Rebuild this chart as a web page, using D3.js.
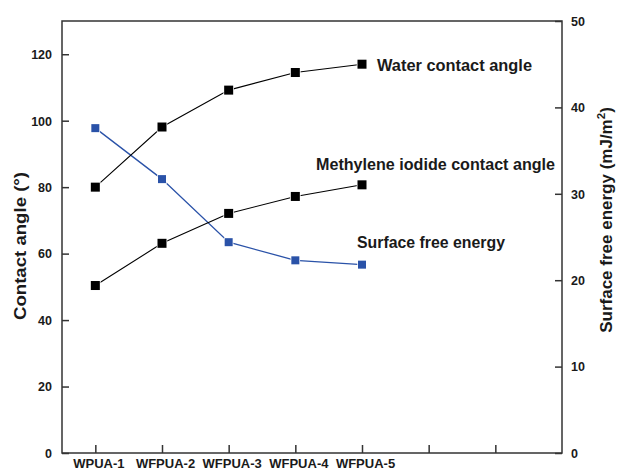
<!DOCTYPE html>
<html>
<head>
<meta charset="utf-8">
<script src="https://cdn.jsdelivr.net/npm/d3@7/dist/d3.min.js"></script>
<style>
  html, body { margin: 0; padding: 0; background: #fff; }
  svg { display: block; }
  text { font-family: "Liberation Sans", Arial, sans-serif; font-weight: bold; fill: #1a1a1a; }
</style>
</head>
<body>
<svg id="chart" width="618" height="470"></svg>
<script>
// Samples (x positions 1..5); two empty slots follow on the axis
const samples = ["WPUA-1", "WFPUA-2", "WFPUA-3", "WFPUA-4", "WFPUA-5"];
const xTicks = [1, 2, 3, 4, 5, 6, 7];

// Contact angles (degrees, left axis)
const waterAngle = [80.0, 98.1, 109.2, 114.5, 117.0];
const methyleneAngle = [50.4, 63.1, 72.1, 77.2, 80.7];

// Surface free energy (mJ/m², right axis)
const surfaceEnergy = [37.6, 31.7, 24.4, 22.3, 21.8];

const leftTicks = [0, 20, 40, 60, 80, 100, 120];
const rightTicks = [0, 10, 20, 30, 40, 50];

const svg = d3.select("#chart");
const plot = { left: 62, right: 562, top: 21, bottom: 453 };

const x = d3.scaleLinear().domain([0.5, 8]).range([plot.left, plot.right]);
const yL = d3.scaleLinear().domain([0, 130]).range([plot.bottom, plot.top]);
const yR = d3.scaleLinear().domain([0, 50]).range([plot.bottom, plot.top]);

const axisColor = "#333";

// frame
svg.append("rect")
  .attr("x", plot.left).attr("y", plot.top)
  .attr("width", plot.right - plot.left).attr("height", plot.bottom - plot.top)
  .attr("fill", "none").attr("stroke", axisColor).attr("stroke-width", 1.5);

// bottom axis: inward ticks, labels only for the samples
const xAxis = svg.append("g").attr("transform", `translate(0,${plot.bottom})`)
  .call(d3.axisBottom(x).tickValues(xTicks).tickSizeInner(-8).tickSizeOuter(0)
    .tickFormat(d => samples[d - 1] || ""));
xAxis.select(".domain").remove();
xAxis.selectAll("line").attr("stroke", axisColor).attr("stroke-width", 1.5);
xAxis.selectAll("text")
  .attr("font-size", 13).attr("dy", 0).attr("y", 15)
  .attr("dx", 3)
  .attr("fill", "#1a1a1a");

// left axis
const yAxisL = svg.append("g").attr("transform", `translate(${plot.left},0)`)
  .call(d3.axisLeft(yL).tickValues(leftTicks).tickSizeInner(-7).tickSizeOuter(0).tickPadding(10));
yAxisL.select(".domain").remove();
yAxisL.selectAll("line").attr("stroke", axisColor).attr("stroke-width", 1.5);
yAxisL.selectAll("text").attr("font-size", 12.5).attr("fill", "#1a1a1a").attr("dy", "0.35em");

// right axis
const yAxisR = svg.append("g").attr("transform", `translate(${plot.right},0)`)
  .call(d3.axisRight(yR).tickValues(rightTicks).tickSizeInner(-7).tickSizeOuter(0).tickPadding(9));
yAxisR.select(".domain").remove();
yAxisR.selectAll("line").attr("stroke", axisColor).attr("stroke-width", 1.5);
yAxisR.selectAll("text").attr("font-size", 12.5).attr("fill", "#1a1a1a").attr("dy", "0.35em");

// axis titles
svg.append("text")
  .attr("transform", "translate(26,246) rotate(-90)")
  .attr("text-anchor", "middle").attr("font-size", 16.5)
  .attr("textLength", 148).attr("lengthAdjust", "spacingAndGlyphs")
  .text("Contact angle (°)");

const rTitle = svg.append("text")
  .attr("transform", "translate(612,220) rotate(-90)")
  .attr("text-anchor", "middle").attr("font-size", 17);
rTitle.append("tspan").text("Surface free energy (mJ/m");
rTitle.append("tspan").attr("font-size", 11.5).attr("dy", -7).text("2");
rTitle.append("tspan").attr("dy", 7).text(")");

// series
const idx = d3.range(samples.length);

function drawSeries(values, yScale, color, size, lineWidth) {
  const line = d3.line().x(i => x(i + 1)).y(i => yScale(values[i]));
  svg.append("path").datum(idx)
    .attr("d", line).attr("fill", "none")
    .attr("stroke", color).attr("stroke-width", lineWidth);
  svg.append("g").selectAll("rect").data(idx).join("rect")
    .attr("x", i => x(i + 1) - size / 2)
    .attr("y", i => yScale(values[i]) - size / 2)
    .attr("width", size).attr("height", size)
    .attr("fill", color)
    .attr("stroke", "#fff").attr("stroke-width", 1.5)
    .attr("paint-order", "stroke");
}

drawSeries(surfaceEnergy, yR, "#2a52a8", 8, 1.3);
drawSeries(methyleneAngle, yL, "#000", 9, 1.1);
drawSeries(waterAngle, yL, "#000", 9, 1.1);

// series labels
function seriesLabel(txt, xPos, yPos, width) {
  svg.append("text").attr("x", xPos).attr("y", yPos)
    .attr("font-size", 16).attr("dy", "0.35em")
    .attr("textLength", width).attr("lengthAdjust", "spacingAndGlyphs")
    .text(txt);
}
seriesLabel("Water contact angle", 377, 65, 155);
seriesLabel("Methylene iodide contact angle", 316, 164, 239);
seriesLabel("Surface free energy", 357, 242, 148);
</script>
</body>
</html>
